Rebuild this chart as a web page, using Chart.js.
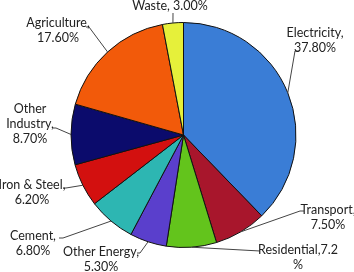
<!DOCTYPE html>
<html>
<head>
<meta charset="utf-8">
<script src="https://cdn.jsdelivr.net/npm/chart.js@4"></script>
<style>
  html, body { margin: 0; padding: 0; background: #fff; }
  #wrap { width: 354px; height: 272px; position: relative; }
</style>
</head>
<body>
<div id="wrap"><canvas id="pieChart"></canvas></div>
<script>
// 데이터
const categories = ['Electricity', 'Transport', 'Residential', 'Other Energy', 'Cement', 'Iron & Steel', 'Other Industry', 'Agriculture', 'Waste'];
const shares = [37.8, 7.5, 7.2, 5.3, 6.8, 6.2, 8.7, 17.6, 3.0];
const sliceColors = ['#3a7dd6', '#a8162c', '#63c41c', '#5a3fcc', '#2db6b2', '#d3100f', '#0b0b6c', '#f25a0a', '#e6f03a'];

// label text lines (as wrapped in the picture)
const labelLines = [
  ['Electricity,', '37.80%'],
  ['Transport,', '7.50%'],
  ['Residential,7.2', '%'],
  ['Other Energy,', '5.30%'],
  ['Cement,', '6.80%'],
  ['Iron & Steel,', '6.20%'],
  ['Other', 'Industry,', '8.70%'],
  ['Agriculture,', '17.60%'],
  ['Waste, 3.00%'],
];

// label placement: text centre x, first line y, leader elbow points
const labelPos = [
  { x: 315, y: 33, leader: [[295, 51], [299, 51]] },
  { x: 328, y: 210, leader: [[300, 211], [304, 211]] },
  { x: 298, y: 250, leader: [[260, 251]] },
  { x: 101, y: 252, leader: [[140, 253], [137, 253]] },
  { x: 33, y: 236, leader: [[63, 238], [59, 238]] },
  { x: 32, y: 185, leader: [[66, 188], [63, 188]] },
  { x: 30, y: 109, leader: [[56, 128], [53, 128]] },
  { x: 58, y: 23, leader: [[89, 27], [86, 27]] },
  { x: 170, y: 6, leader: [[173, 13]] },
];

const outsideLabels = {
  id: 'outsideLabels',
  afterDraw(chart) {
    const ctx = chart.ctx;
    const meta = chart.getDatasetMeta(0);
    ctx.save();
    meta.data.forEach((arc, i) => {
      const p = arc.getProps(['x', 'y', 'startAngle', 'endAngle', 'outerRadius'], true);
      const mid = (p.startAngle + p.endAngle) / 2;
      const ax = p.x + Math.cos(mid) * p.outerRadius;
      const ay = p.y + Math.sin(mid) * p.outerRadius;
      const lp = labelPos[i];
      ctx.strokeStyle = '#444';
      ctx.lineWidth = 1;
      ctx.beginPath();
      ctx.moveTo(ax, ay);
      lp.leader.forEach(([lx, ly]) => ctx.lineTo(lx, ly));
      ctx.stroke();

      ctx.fillStyle = '#222';
      ctx.font = '12.5px Lato, "Open Sans", sans-serif';
      ctx.textAlign = 'center';
      ctx.textBaseline = 'middle';
      labelLines[i].forEach((line, k) => {
        ctx.fillText(line, lp.x, lp.y + k * 15);
      });
    });
    ctx.restore();
  },
};

const pieCtx = document.getElementById('pieChart').getContext('2d');
new Chart(pieCtx, {
  type: 'pie',
  data: {
    labels: categories,
    datasets: [{
      data: shares,
      backgroundColor: sliceColors,
      borderColor: '#111',
      borderWidth: 1,
    }],
  },
  options: {
    responsive: true,
    maintainAspectRatio: false,
    animation: false,
    layout: { padding: { top: 22, bottom: 24, left: 70, right: 57 } },
    plugins: {
      legend: { display: false },
      tooltip: { enabled: false },
    },
  },
  plugins: [outsideLabels],
});
</script>
</body>
</html>
